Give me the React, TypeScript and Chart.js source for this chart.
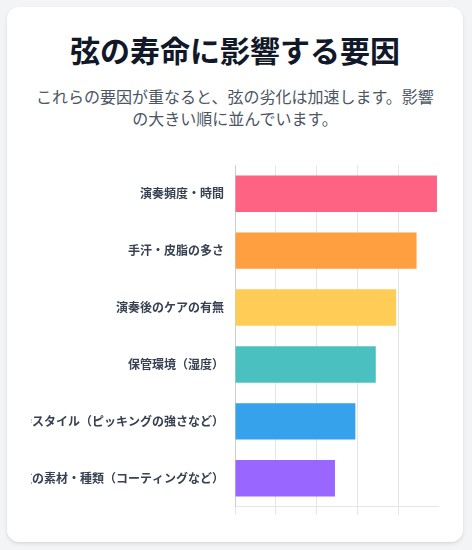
import { useEffect, useRef } from "react";
import { Chart, registerables } from "chart.js";

Chart.register(...registerables);

const FONT = "'Noto Sans CJK JP', 'Noto Sans', sans-serif";

const factorLabels = [
  "演奏頻度・時間",
  "手汗・皮脂の多さ",
  "演奏後のケアの有無",
  "保管環境（湿度）",
  "演奏スタイル（ピッキングの強さなど）",
  "弦の素材・種類（コーティングなど）",
];
const impactScores = [9.9, 8.9, 7.9, 6.9, 5.9, 4.9];
const barColors = [
  "#FF6384",
  "#FF9F40",
  "#FFCD56",
  "#4BC0C0",
  "#36A2EB",
  "#9966FF",
];

function FactorChart() {
  const chartRef = useRef<HTMLCanvasElement>(null);
  const chartInstance = useRef<Chart | null>(null);

  useEffect(() => {
    if (!chartRef.current) return;
    if (chartInstance.current) {
      chartInstance.current.destroy();
    }
    const ctx = chartRef.current.getContext("2d");
    if (!ctx) return;

    Chart.defaults.font.family = FONT;

    chartInstance.current = new Chart(ctx, {
      type: "bar",
      data: {
        labels: factorLabels,
        datasets: [
          {
            label: "影響度",
            data: impactScores,
            backgroundColor: barColors,
            borderWidth: 0,
            barPercentage: 0.8,
            categoryPercentage: 0.8,
          },
        ],
      },
      options: {
        indexAxis: "y",
        responsive: true,
        maintainAspectRatio: false,
        animation: false,
        plugins: {
          legend: { display: false },
          tooltip: { enabled: true },
        },
        scales: {
          x: {
            beginAtZero: true,
            ticks: { display: false },
          },
          y: {
            grid: { display: false },
            ticks: {
              color: "#374151",
              font: { size: 12, weight: "bold", family: FONT },
            },
          },
        },
      },
    });

    return () => {
      if (chartInstance.current) {
        chartInstance.current.destroy();
        chartInstance.current = null;
      }
    };
  }, []);

  return (
    <div style={{ position: "relative", height: 362, marginTop: 26 }}>
      <canvas ref={chartRef}></canvas>
    </div>
  );
}

export default function App() {
  useEffect(() => {
    document.body.style.margin = "0";
    document.body.style.background = "#f3f4f6";
  }, []);

  return (
    <div
      style={{
        background: "#f3f4f6",
        minHeight: 550,
        padding: 7,
        boxSizing: "border-box",
        fontFamily: FONT,
      }}
    >
      <div
        style={{
          width: 456,
          boxSizing: "border-box",
          background: "#ffffff",
          borderRadius: 12,
          boxShadow: "0 2px 4px rgba(0,0,0,0.08), 0 1px 2px rgba(0,0,0,0.05)",
          padding: "24px 24px 25px 24px",
        }}
      >
        <h1
          style={{
            margin: 0,
            fontSize: 30,
            lineHeight: "36px",
            fontWeight: 700,
            color: "#111827",
            textAlign: "center",
          }}
        >
          弦の寿命に影響する要因
        </h1>
        <p
          style={{
            margin: "18px 0 0 0",
            fontSize: 16,
            lineHeight: "22px",
            color: "#4b5563",
            textAlign: "center",
          }}
        >
          これらの要因が重なると、弦の劣化は加速します。影響の大きい順に並んでいます。
        </p>
        <FactorChart />
      </div>
    </div>
  );
}
